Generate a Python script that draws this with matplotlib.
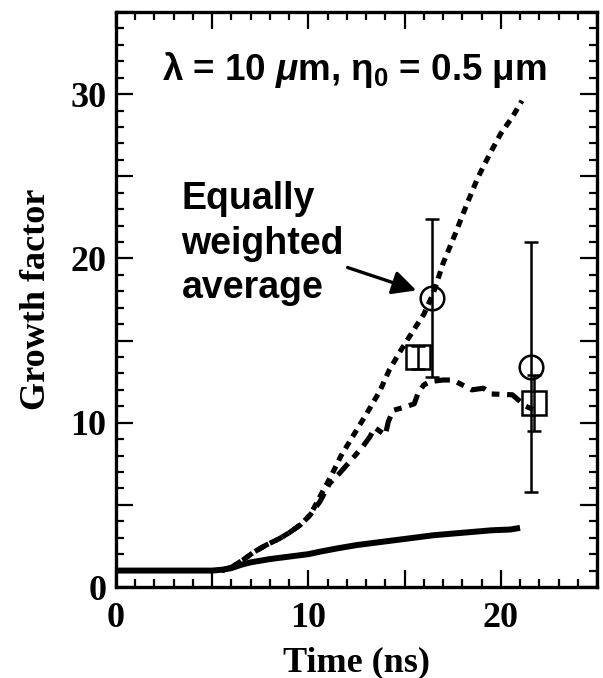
import matplotlib
matplotlib.use("Agg")
import matplotlib.pyplot as plt
from matplotlib.ticker import MultipleLocator, FuncFormatter

plt.rcParams['mathtext.fontset'] = 'custom'
plt.rcParams['mathtext.rm'] = 'Liberation Sans:bold'
plt.rcParams['mathtext.it'] = 'Liberation Sans:italic:bold'
plt.rcParams['mathtext.bf'] = 'Liberation Sans:bold'

# solid curve
t_solid = [0, 2, 4, 5.0, 5.5, 6.0, 6.5, 7.0, 8.0, 9.0, 10.0, 10.6, 11.5, 12.5, 13.5, 14.5, 15.5, 16.5, 17.5, 18.5, 19.5, 20.5, 21.0]
g_solid = [1.0, 1.0, 1.0, 1.0, 1.05, 1.15, 1.35, 1.5, 1.7, 1.85, 2.0, 2.15, 2.35, 2.55, 2.7, 2.85, 3.0, 3.15, 3.25, 3.35, 3.45, 3.5, 3.6]

# upper dotted curve
t_up = [5.5, 6.0, 6.6, 7.2, 7.8, 8.5, 9.0, 9.6, 10.1, 10.6, 11.2, 11.7, 12.4, 13.1, 13.7, 14.2, 14.8, 15.5, 16.0, 16.5, 17.0, 17.6, 18.2, 18.8, 19.4, 20.0, 20.6, 21.1]
g_up = [1.0, 1.2, 1.65, 2.15, 2.55, 2.95, 3.3, 3.8, 4.4, 5.5, 6.8, 8.0, 9.35, 10.7, 11.9, 13.2, 14.4, 15.7, 16.6, 17.9, 19.7, 21.4, 23.2, 24.9, 26.3, 27.6, 28.6, 29.6]

# lower dash-dot curve
t_lo = [5.5, 6.0, 6.6, 7.2, 7.8, 8.5, 9.0, 9.6, 10.1, 10.6, 11.1, 11.6, 12.2, 12.8, 13.2, 13.45, 14.0, 14.15, 14.4, 15.0, 15.5, 15.7, 16.0, 16.3, 17.0, 17.5, 18.5, 19.1, 19.5, 20.6, 21.3, 21.7]
g_lo = [1.0, 1.2, 1.65, 2.15, 2.55, 2.95, 3.3, 3.8, 4.4, 5.2, 6.3, 6.9, 7.7, 8.5, 9.15, 9.7, 9.25, 10.05, 10.75, 10.95, 11.15, 11.8, 12.3, 12.5, 12.6, 12.6, 12.0, 12.1, 11.75, 11.7, 11.0, 10.8]

# measured points
t_circ = [16.4, 21.55]
g_circ = [17.6, 13.4]
e_circ = [4.8, 7.6]
t_sq = [15.7, 21.7]
g_sq = [14.0, 11.2]
e_sq = [0.7, 1.7]

serif = 'Liberation Serif'
sans = 'Liberation Sans'

fig = plt.figure(figsize=(6.03, 6.78), dpi=100)
ax = fig.add_axes([116/603, 1-587/678, (597-116)/603, (587-12)/678])

ax.plot(t_solid, g_solid, color='k', lw=4.3, solid_capstyle='butt')
ax.plot(t_up, g_up, color='k', lw=3.7, linestyle=(0, (1.5, 1.2)))
ax.plot(t_lo, g_lo, color='k', lw=3.7, linestyle=(0, (3, 1.5, 1.5, 1.5)))

ax.errorbar(t_circ, g_circ, yerr=e_circ, fmt='o', ms=17, mfc='none', mec='k', mew=1.8,
            ecolor='k', elinewidth=1.8, capsize=5, capthick=1.8)
ax.errorbar(t_sq, g_sq, yerr=e_sq, fmt='s', ms=17, mfc='none', mec='k', mew=1.8,
            ecolor='k', elinewidth=1.8, capsize=5, capthick=1.8)

ax.text(12.4, 31.5, r'λ = 10 $\mu$m, η$_0$ = 0.5 μm', family=sans, weight='bold',
        fontsize=26.5, ha='center', va='center')
ax.text(3.4, 20.9, 'Equally\nweighted\naverage', family=sans, weight='bold',
        fontsize=27, ha='left', va='center', linespacing=1.3)
ax.annotate('', xy=(15.75, 18.0), xytext=(11.9, 19.5),
            arrowprops=dict(arrowstyle='-|>', lw=2.4, color='k', mutation_scale=36))

ax.set_xlim(0, 25)
ax.set_ylim(0, 35)
ax.xaxis.set_major_locator(MultipleLocator(5))
ax.xaxis.set_minor_locator(MultipleLocator(1))
ax.yaxis.set_major_locator(MultipleLocator(5))
ax.yaxis.set_minor_locator(MultipleLocator(1))
only_tens = FuncFormatter(lambda v, p: '%d' % v if int(round(v)) % 10 == 0 else '')
ax.xaxis.set_major_formatter(only_tens)
ax.yaxis.set_major_formatter(only_tens)

ax.tick_params(which='both', direction='in', top=True, right=True, width=1.6)
ax.tick_params(which='major', length=12)
ax.tick_params(which='minor', length=6)
ax.tick_params(axis='x', pad=11)
ax.tick_params(axis='y', pad=7)
for lab in ax.get_xticklabels() + ax.get_yticklabels():
    lab.set_family(serif)
    lab.set_weight('bold')
    lab.set_fontsize(26)
for s in ax.spines.values():
    s.set_linewidth(2.4)

ax.set_xlabel('Time (ns)', family=serif, weight='bold', fontsize=26, labelpad=8)
ax.set_ylabel('Growth factor', family=serif, weight='bold', fontsize=26, labelpad=12)

fig.savefig('out.png', dpi=100)
